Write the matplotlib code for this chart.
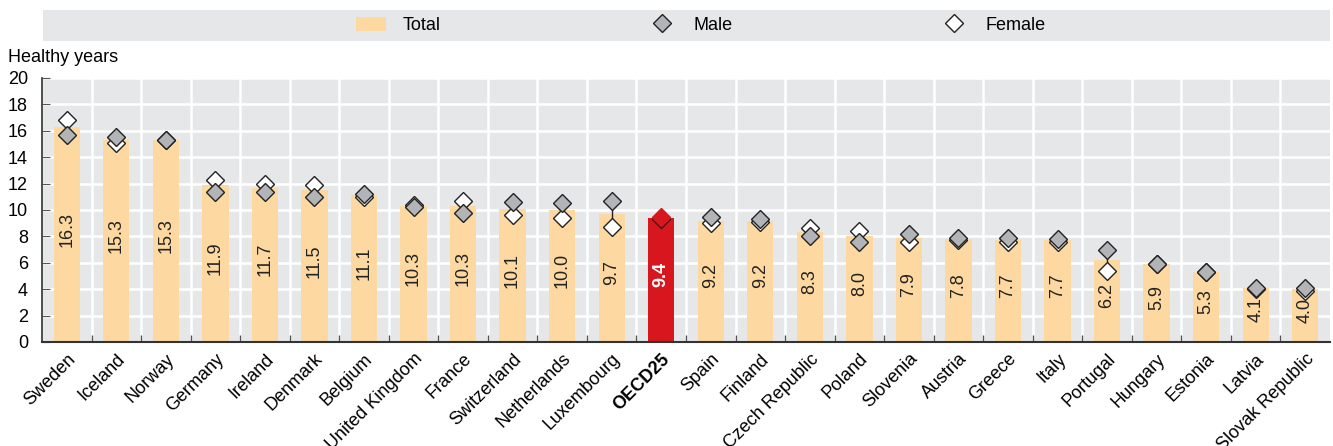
import matplotlib
matplotlib.use("Agg")
import matplotlib.pyplot as plt
from matplotlib.patches import Patch
from matplotlib.lines import Line2D
import numpy as np

plt.rcParams['font.family'] = ['Liberation Sans', 'DejaVu Sans']

countries = ["Sweden", "Iceland", "Norway", "Germany", "Ireland", "Denmark", "Belgium",
             "United Kingdom", "France", "Switzerland", "Netherlands", "Luxembourg", "OECD25",
             "Spain", "Finland", "Czech Republic", "Poland", "Slovenia", "Austria", "Greece",
             "Italy", "Portugal", "Hungary", "Estonia", "Latvia", "Slovak Republic"]
total = [16.3, 15.3, 15.3, 11.9, 11.7, 11.5, 11.1, 10.3, 10.3, 10.1, 10.0, 9.7, 9.4,
         9.2, 9.2, 8.3, 8.0, 7.9, 7.8, 7.7, 7.7, 6.2, 5.9, 5.3, 4.1, 4.0]
male = [15.7, 15.5, 15.3, 11.4, 11.4, 11.0, 11.2, 10.2, 9.8, 10.6, 10.5, 10.7, 9.5,
        9.5, 9.3, 8.0, 7.6, 8.2, 7.9, 7.9, 7.8, 7.0, 5.9, 5.3, 4.1, 4.1]
female = [16.8, 15.1, 15.3, 12.3, 12.0, 11.9, 11.0, 10.4, 10.7, 9.6, 9.4, 8.7, 9.3,
          9.0, 9.1, 8.6, 8.4, 7.6, 7.7, 7.6, 7.6, 5.4, 5.9, 5.3, 4.0, 3.9]
highlight = "OECD25"
yticks = [0, 2, 4, 6, 8, 10, 12, 14, 16, 18, 20]

BAR = "#fdd8a0"
RED = "#d7161e"
GRAY = "#b3b4b7"
BG = "#e6e7e8"
EDGE = "#222222"
MS = 9

W, H = 1333, 446
fig = plt.figure(figsize=(W / 100, H / 100), dpi=100)
ax = fig.add_axes([42 / W, 1 - 342 / H, (1330 - 42) / W, (342 - 78) / H])
ax.set_facecolor(BG)

n = len(countries)
x = np.arange(n)
colors = [RED if c == highlight else BAR for c in countries]
ax.bar(x, total, width=0.53, color=colors, zorder=2)

for i, (c, t, m, f) in enumerate(zip(countries, total, male, female)):
    ax.plot([i, i], [m, f], color=EDGE, lw=1, zorder=3)
    if c == highlight:
        ax.plot(i, f, marker='D', ms=MS, mfc=RED, mec=EDGE, mew=1, zorder=4)
        ax.plot(i, m, marker='D', ms=MS, mfc=RED, mec=RED, mew=1, zorder=5)
        ax.text(i, t / 2 + 0.4, f"{t:.1f}", rotation=90, ha='center', va='center',
                color='white', fontsize=13, fontweight='bold', zorder=6)
    else:
        ax.plot(i, f, marker='D', ms=MS, mfc='white', mec=EDGE, mew=1, zorder=4)
        ax.plot(i, m, marker='D', ms=MS, mfc=GRAY, mec=EDGE, mew=1, zorder=5)
        ax.text(i, t / 2 + 0.4, f"{t:.1f}", rotation=90, ha='center', va='center',
                color=EDGE, fontsize=13, zorder=6)

ax.set_xlim(-0.5, n - 0.5)
ax.set_ylim(0, 20)
ax.set_yticks(yticks)
ax.set_xticks(x)
ax.set_xticklabels(countries, rotation=45, ha='right', rotation_mode='anchor', fontsize=13)
for lbl in ax.get_xticklabels():
    if lbl.get_text() == highlight:
        lbl.set_fontweight('bold')
ax.set_xticks(np.arange(n - 1) + 0.5, minor=True)
ax.tick_params(axis='x', which='major', length=0, pad=6)
ax.tick_params(axis='x', which='minor', direction='in', length=5, color='#555555', width=1)
ax.tick_params(axis='y', which='major', direction='in', length=6, color='#555555',
               labelsize=13, pad=10)
ax.grid(True, axis='y', which='major', color='white', lw=1.8, zorder=1)
ax.grid(True, axis='x', which='minor', color='white', lw=1.8, zorder=1)
ax.set_axisbelow(True)
for s in ['top', 'right']:
    ax.spines[s].set_visible(False)
ax.spines['left'].set_color('#333333')
ax.spines['bottom'].set_color('#333333')
ax.spines['left'].set_linewidth(1.2)
ax.spines['bottom'].set_linewidth(1.5)

fig.text(8 / W, 1 - 58 / H, "Healthy years", fontsize=13, va='center', ha='left')

# legend band
lax = fig.add_axes([43 / W, 1 - 41 / H, (1330 - 43) / W, 31 / H])
lax.set_facecolor(BG)
lax.set_xticks([])
lax.set_yticks([])
for s in lax.spines.values():
    s.set_visible(False)
handles = [Patch(facecolor=BAR, edgecolor='none'),
           Line2D([], [], marker='D', ls='none', ms=MS, mfc=GRAY, mec=EDGE, mew=1),
           Line2D([], [], marker='D', ls='none', ms=MS, mfc='white', mec=EDGE, mew=1)]
lax.legend(handles, ["Total", "Male", "Female"], loc='center', bbox_to_anchor=(0.511, 0.5),
           ncol=3, frameon=False, fontsize=13, handlelength=1.7, handletextpad=0.9,
           columnspacing=11.4, handleheight=0.8)

fig.savefig("out.png", dpi=100)
